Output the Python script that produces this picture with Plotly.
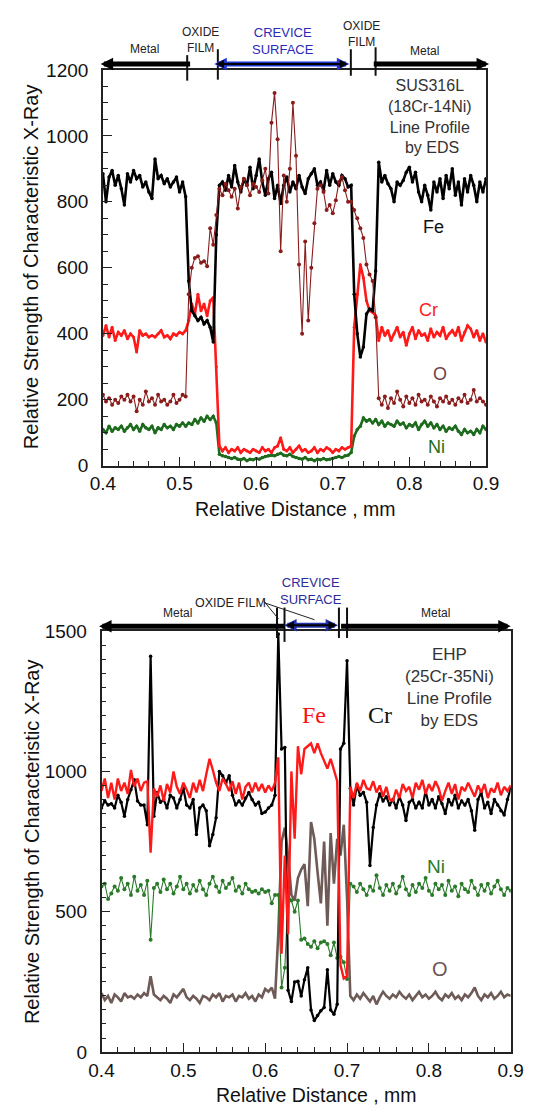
import plotly.graph_objects as go

W, H = 538, 1118

# ---------------- data: top chart (SUS316L) ----------------
x_top = [round(0.4 + 0.004 * i, 3) for i in range(126)]

fe_top = [885, 800, 875, 895, 850, 880, 840, 790, 885, 860,
          895, 870, 880, 845, 860, 830, 810, 930, 870, 880,
          855, 870, 845, 860, 875, 830, 860, 815, 560, 470,
          455, 440, 450, 430, 440, 420, 375, 700, 850, 860,
          835, 880, 845, 910, 860, 830, 870, 850, 905, 840,
          880, 930, 860, 820, 870, 890, 810, 850, 795, 850,
          875, 830, 860, 840, 880, 845, 825, 870, 885, 900,
          850, 860, 835, 895, 850, 885, 860, 850, 880, 870,
          845, 850, 520, 400, 330, 360, 460, 475, 470, 590,
          920, 860, 880, 855, 840, 800, 860, 850, 865, 890,
          905, 860, 890, 830, 800, 850, 820, 775, 860, 830,
          870, 810, 880, 840, 900, 820, 860, 790, 870, 830,
          880, 850, 800, 860, 830, 870]

cr_top = [395, 425, 390, 420, 380, 405, 395, 410, 385, 400,
          390, 345, 410, 395, 400, 390, 395, 390, 400, 410,
          390, 395, 385, 400, 395, 405, 400, 410, 440, 490,
          460, 520, 470, 490, 455, 500, 510, 300, 60, 45,
          55, 40, 50, 45, 55, 40, 50, 45, 40, 50,
          45, 40, 55, 45, 50, 40, 55, 60, 85, 50,
          45, 55, 40, 50, 60, 45, 50, 40, 45, 55,
          40, 50, 45, 55, 50, 40, 50, 45, 55, 50,
          55, 60, 420, 520, 610, 570, 500, 470, 465, 455,
          380, 420, 395, 410, 380, 400, 420, 390, 405, 365,
          400, 420, 385, 410, 395, 400, 380, 415, 390, 405,
          395, 420, 385, 400, 410, 395, 420, 380, 405, 425,
          415, 390, 410, 380, 400, 375]

o_top = [215, 195, 205, 185, 200, 190, 210, 200, 215, 195,
         210, 165, 200, 185, 225, 195, 205, 185, 215, 195,
         200, 185, 195, 215, 190, 200, 215, 210, 520, 600,
         630, 635, 615, 620, 605, 720, 670, 760, 840, 820,
         855, 835, 815, 840, 780, 845, 870, 850, 820, 855,
         845, 830, 865, 900, 825, 1040, 1130, 990, 650, 880,
         800, 900, 1100, 940, 610, 400, 680, 440, 600, 735,
         840, 850, 830, 775, 790, 765, 805, 860, 875, 835,
         800, 800, 775, 750, 720, 690, 610, 580, 560, 450,
         205, 185, 210, 175, 205, 190, 225, 200, 180, 210,
         190, 205, 185, 215, 195, 200, 185, 210, 195, 180,
         205, 195, 210, 190, 200, 185, 205, 195, 215, 190,
         200, 230, 195, 205, 195, 185]

ni_top = [110, 100, 120, 105, 115, 110, 120, 105, 115, 125,
          110, 120, 105, 125, 115, 110, 120, 100, 115, 110,
          125, 115, 120, 110, 125, 120, 130, 120, 130, 125,
          140, 130, 145, 135, 150, 140, 150, 130, 35, 30,
          28, 25, 22, 25, 20, 18, 22, 15, 20, 18,
          22, 20, 25, 28, 30, 32, 30, 35, 38, 32,
          30, 35, 28, 25, 22, 20, 25, 18, 20, 15,
          20, 18, 22, 18, 20, 22, 25, 28, 25, 30,
          32, 40, 90, 110, 120, 145, 135, 140, 130, 140,
          125, 135, 120, 130, 125, 120, 135, 125, 130, 115,
          125, 120, 130, 110, 125, 135, 120, 130, 115, 125,
          110, 120, 105, 115, 110, 120, 105, 95, 110, 100,
          105, 95, 110, 100, 120, 110]

# ---------------- data: bottom chart (EHP) ----------------
x_bot = [round(0.4 + 0.004 * i, 3) for i in range(126)]

cr_bot = [870, 895, 880, 885, 870, 915, 890, 840, 900, 935,
          970, 895, 880, 880, 810, 1410, 840, 925, 890, 900,
          870, 915, 905, 870, 900, 940, 880, 870, 900, 775,
          870, 880, 860, 735, 775, 835, 1000, 985, 960, 985,
          915, 880, 895, 880, 905, 925, 900, 880, 890, 850,
          855, 870, 880, 915, 1490, 1080, 1085, 220, 180, 250,
          252, 200, 258, 300, 150, 112, 130, 147, 159, 293,
          150, 135, 170, 1080, 1100, 1394, 940, 880, 950, 915,
          925, 890, 665, 800, 880, 920, 895, 910, 880, 900,
          870, 910, 880, 825, 890, 900, 870, 890, 870, 930,
          880, 900, 870, 910, 885, 850, 900, 880, 915, 870,
          895, 880, 900, 860, 790, 900, 925, 870, 890, 850,
          900, 880, 860, 845, 900, 940]

fe_bot = [930, 975, 905, 960, 900, 975, 930, 960, 920, 1005,
          945, 975, 930, 960, 965, 710, 940, 910, 950, 895,
          955, 925, 1000, 945, 920, 960, 935, 905, 960, 925,
          970, 930, 990, 1045, 1005, 960, 930, 975, 955, 930,
          965, 920, 960, 900, 945, 960, 925, 960, 930, 955,
          925, 950, 930, 960, 1050, 350, 700, 420, 1000, 760,
          1090, 990, 1080, 1090, 1100, 1065, 1100, 1065, 1040, 1010,
          1045, 1000, 965, 310, 262, 270, 945, 905, 960, 930,
          970, 940, 935, 965, 925, 950, 910, 945, 900, 895,
          935, 905, 955, 930, 945, 905, 960, 935, 970, 920,
          955, 930, 965, 940, 895, 930, 960, 920, 955, 900,
          945, 930, 960, 935, 910, 950, 925, 955, 905, 940,
          925, 960, 915, 945, 930, 950]

o_bot = [210, 185, 200, 175, 205, 195, 180, 210, 195, 200,
         190, 205, 195, 210, 200, 270, 205, 195, 185, 200,
         190, 175, 205, 195, 210, 225, 195, 185, 200, 190,
         175, 200, 195, 185, 205, 195, 210, 180, 200, 195,
         205, 180, 200, 195, 210, 190, 200, 180, 205, 195,
         225, 215, 230, 190, 420, 750, 800, 700, 560, 540,
         620, 650, 670, 520, 820, 760, 640, 530, 750, 450,
         780, 600, 760, 700, 810, 550, 200, 185, 205, 190,
         210, 195, 180, 200, 170, 195, 215, 200, 190, 205,
         195, 215, 200, 190, 205, 185, 200, 215, 195, 205,
         190, 200, 215, 195, 185, 205, 195, 210, 190, 200,
         185, 205, 195, 210, 230, 200, 185, 205, 195, 210,
         190, 200, 215, 195, 205, 200]

ni_bot = [590, 600, 545, 565, 590, 575, 620, 580, 600, 560,
          625, 575, 595, 560, 610, 400, 585, 600, 570, 615,
          580, 600, 565, 590, 625, 580, 600, 565, 595, 575,
          610, 580, 560, 600, 625, 590, 570, 610, 585, 600,
          620, 575, 590, 565, 600, 580, 570, 575, 565, 580,
          570, 575, 530, 560, 560, 230, 300, 560, 540, 500,
          540, 400, 405, 385, 375, 395, 370, 390, 395, 385,
          345, 390, 335, 340, 320, 260, 600, 590, 570, 600,
          580, 560, 590, 575, 630, 585, 560, 595, 575, 600,
          565, 590, 625, 580, 560, 595, 570, 600, 585, 620,
          575, 560, 600, 580, 595, 560, 610, 575, 590, 555,
          600, 580, 570, 610, 585, 560, 595, 575, 600, 565,
          590, 610, 580, 560, 585, 575]

for arr in (fe_top, cr_top, o_top, ni_top, cr_bot, fe_bot, o_bot, ni_bot):
    assert len(arr) == 126, len(arr)

# region boundaries (mm) used for the annotation bars
top_marks = [0.51, 0.55, 0.7236, 0.7559]
bot_marks = [0.6144, 0.6236, 0.6901, 0.700]

# ---------------- layout geometry ----------------
TOP_X = [94.5 / W, 497 / W]
TOP_Y = [1 - 464.5 / H, 1 - 61 / H]
BOT_X = [93 / W, 523 / W]
BOT_Y = [1 - 1062 / H, 1 - 633 / H]


def xp(dom, xv):
    return dom[0] + (xv - 0.4) / 0.5 * (dom[1] - dom[0])


def yp(pix):
    return 1 - pix / H


fig = go.Figure()

# top traces
fig.add_trace(go.Scatter(x=x_top, y=ni_top, mode='lines+markers', xaxis='x', yaxis='y',
                         line=dict(color='#1d6b1d', width=2.6), marker=dict(size=3.5, color='#1d6b1d')))
fig.add_trace(go.Scatter(x=x_top, y=cr_top, mode='lines+markers', xaxis='x', yaxis='y',
                         line=dict(color='#ff1a1a', width=2.6), marker=dict(size=3, color='#ff1a1a')))
fig.add_trace(go.Scatter(x=x_top, y=fe_top, mode='lines+markers', xaxis='x', yaxis='y',
                         line=dict(color='#000000', width=2.6), marker=dict(size=3.5, color='#000000')))
fig.add_trace(go.Scatter(x=x_top, y=o_top, mode='lines+markers', xaxis='x', yaxis='y',
                         line=dict(color='#8b1c1c', width=1.1), marker=dict(size=4, color='#8b1c1c')))

# bottom traces
fig.add_trace(go.Scatter(x=x_bot, y=o_bot, mode='lines', xaxis='x2', yaxis='y2',
                         line=dict(color='#6e5a56', width=2.6)))
fig.add_trace(go.Scatter(x=x_bot, y=ni_bot, mode='lines+markers', xaxis='x2', yaxis='y2',
                         line=dict(color='#2a7a2a', width=1.1), marker=dict(size=4, color='#2a7a2a')))
fig.add_trace(go.Scatter(x=x_bot, y=cr_bot, mode='lines+markers', xaxis='x2', yaxis='y2',
                         line=dict(color='#000000', width=2.2), marker=dict(size=3.5, color='#000000')))
fig.add_trace(go.Scatter(x=x_bot, y=fe_bot, mode='lines', xaxis='x2', yaxis='y2',
                         line=dict(color='#ff1a1a', width=2.4)))

TICKFONT = dict(family='Liberation Sans, Arial, sans-serif', size=19, color='#111')
common = dict(showline=True, linecolor='#222', linewidth=1.5, mirror=True, ticks='inside',
              ticklen=9, tickwidth=1.2, tickcolor='#222', showgrid=False, zeroline=False,
              tickfont=TICKFONT)
minor_x = dict(dtick=0.02, ticks='inside', ticklen=5, tickcolor='#222', tickwidth=1, showgrid=False)
minor_y = dict(dtick=50, ticks='inside', ticklen=5, tickcolor='#222', tickwidth=1, showgrid=False)

fig.update_layout(
    width=W, height=H, margin=dict(l=0, r=0, t=0, b=0),
    paper_bgcolor='white', plot_bgcolor='white', showlegend=False,
    xaxis=dict(domain=TOP_X, anchor='y', range=[0.4, 0.9], tick0=0.4, dtick=0.1,
               tickformat='.1f', minor=minor_x, ticklabelstandoff=0, **common),
    yaxis=dict(domain=TOP_Y, anchor='x', range=[0, 1200], tick0=0, dtick=200,
               minor=minor_y, ticklabelstandoff=9, **common),
    xaxis2=dict(domain=BOT_X, anchor='y2', range=[0.4, 0.9], tick0=0.4, dtick=0.1,
                tickformat='.1f', minor=minor_x, ticklabelstandoff=0, **common),
    yaxis2=dict(domain=BOT_Y, anchor='x2', range=[0, 1500], tick0=0, dtick=500,
                minor=minor_y, ticklabelstandoff=9, **common),
)

SANS = 'Liberation Sans, Arial, sans-serif'
SERIF = 'Liberation Serif, Times New Roman, serif'
ann = []
shapes = []


def text(x, y, s, size, color='#222', family=SANS, angle=0):
    ann.append(dict(xref='paper', yref='paper', x=x, y=y, text=s, showarrow=False,
                    xanchor='center', yanchor='middle', textangle=angle,
                    font=dict(family=family, size=size, color=color)))


def arrow(x_head, x_tail, ypix, color, width, size, both=False):
    ann.append(dict(xref='paper', yref='paper', x=x_head, y=yp(ypix), text='',
                    showarrow=True, axref='pixel', ayref='pixel',
                    ax=(x_tail - x_head) * W, ay=0,
                    arrowhead=2, arrowsize=size, arrowwidth=width, arrowcolor=color,
                    arrowside='end+start' if both else 'end',
                    startarrowhead=2, startarrowsize=size, standoff=0, startstandoff=0))


def vline(xpaper, y0pix, y1pix, width=2, color='#111'):
    shapes.append(dict(type='line', xref='paper', yref='paper', x0=xpaper, x1=xpaper,
                       y0=yp(y0pix), y1=yp(y1pix), line=dict(color=color, width=width)))


# axis titles
YT = 'Relative Strength of Characteristic X-Ray'
XT = 'Relative Distance , mm'
text(19 / W, yp(262), YT, 20, '#111', angle=-90)
text(296 / W, yp(509), XT, 19.5, '#111')
text(20 / W, yp(848), YT, 20, '#111', angle=-90)
text(318 / W, yp(1106), XT, 19.5, '#111')

# ---- top header bar ----
ybar = 55
arrow(xp(TOP_X, 0.397), xp(TOP_X, top_marks[0]), ybar, '#000', 5, 0.5)
arrow(xp(TOP_X, 0.904), xp(TOP_X, top_marks[3] + 0.003), ybar, '#000', 5, 0.5)
arrow(xp(TOP_X, top_marks[2] - 0.002), xp(TOP_X, top_marks[1] + 0.002), ybar, '#2233cc', 5, 0.5, both=True)
arrow(xp(TOP_X, top_marks[2] - 0.004), xp(TOP_X, top_marks[1] + 0.004), ybar, '#000', 2, 0.8, both=True)
vline(xp(TOP_X, top_marks[0]), 46, 72)
vline(xp(TOP_X, top_marks[1]), 40, 71)
vline(xp(TOP_X, top_marks[2]), 40, 67)
vline(xp(TOP_X, top_marks[3]), 38, 67)
text(138.7 / W, yp(40), 'Metal', 12, '#222')
text(197 / W, yp(31), 'OXIDE<br>FILM', 12, '#222')
text(284 / W, yp(31.5), 'CREVICE<br>SURFACE', 13, '#2b2bb8')
text(366.4 / W, yp(24.5), 'OXIDE<br>FILM', 12, '#222')
text(432 / W, yp(42), 'Metal', 12, '#222')
text(438.4 / W, yp(108.5), 'SUS316L<br>(18Cr-14Ni)<br>Line Profile<br> by EDS', 16, '#333')
text(441.8 / W, yp(221), 'Fe', 18, '#111')
text(436.6 / W, yp(306), 'Cr', 18, '#ff1a1a')
text(448.6 / W, yp(371), 'O', 18, '#6e4444')
text(444.5 / W, yp(445), 'Ni', 18, '#1d6b1d')

# ---- bottom header bar ----
ybar2 = 628
arrow(xp(BOT_X, 0.397), xp(BOT_X, bot_marks[0]), ybar2, '#000', 5, 0.5)
arrow(xp(BOT_X, 0.900), xp(BOT_X, bot_marks[3] + 0.001), ybar2, '#000', 5, 0.5)
arrow(xp(BOT_X, bot_marks[2] - 0.001), xp(BOT_X, bot_marks[1] + 0.001), ybar2 - 1, '#2233aa', 5, 0.5, both=True)
arrow(xp(BOT_X, bot_marks[2] - 0.003), xp(BOT_X, bot_marks[1] + 0.003), ybar2 - 1, '#000', 2, 0.8, both=True)
vline(xp(BOT_X, bot_marks[0]), 609, 640)
vline(xp(BOT_X, bot_marks[1]), 609, 644)
vline(xp(BOT_X, bot_marks[2]), 609, 640)
vline(xp(BOT_X, bot_marks[3]), 609, 640)
shapes.append(dict(type='line', xref='paper', yref='paper', x0=263.7 / W, y0=yp(602.5),
                   x1=279 / W, y1=yp(620.7), line=dict(color='#222', width=1)))
shapes.append(dict(type='line', xref='paper', yref='paper', x0=263.7 / W, y0=yp(604),
                   x1=316.8 / W, y1=yp(621.4), line=dict(color='#222', width=1)))
text(173 / W, yp(614.5), 'Metal', 12, '#222')
text(228.4 / W, yp(604), 'OXIDE FILM', 12.5, '#222')
text(313.4 / W, yp(592), 'CREVICE<br>SURFACE', 13, '#2b2b9a')
text(444 / W, yp(614.5), 'Metal', 12, '#222')
text(459 / W, yp(690.5), 'EHP<br>(25Cr-35Ni)<br>Line Profile<br>by EDS', 17, '#333')
text(316 / W, yp(719), 'Fe', 24, '#ff1010', family=SERIF)
text(385.3 / W, yp(719), 'Cr', 24, '#111', family=SERIF)
text(445 / W, yp(873), 'Ni', 19, '#2a7a2a')
text(448.6 / W, yp(977), 'O', 20, '#6b5552')

fig.update_layout(annotations=ann, shapes=shapes)
fig.write_html('out.html', config={'displayModeBar': False},
               post_script="document.body.style.margin='0px';document.body.style.overflow='hidden';")
